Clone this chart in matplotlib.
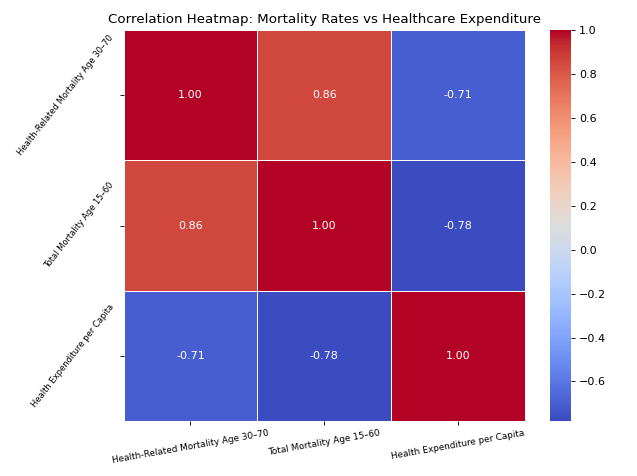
import matplotlib
matplotlib.use("Agg")
import matplotlib.pyplot as plt
import numpy as np
import seaborn as sns

labels = ['Health-Related Mortality Age 30–70', 'Total Mortality Age 15–60', 'Health Expenditure per Capita']
row_1 = [1.00, 0.86, -0.71]
row_2 = [0.86, 1.00, -0.78]
row_3 = [-0.71, -0.78, 1.00]

corr = np.array([row_1, row_2, row_3])

fig = plt.figure(figsize=(6.37, 4.76), dpi=100)
ax = fig.add_axes([0.1939, 0.1155, 0.6303, 0.8214])
cax = fig.add_axes([0.8634, 0.1155, 0.033, 0.8214])

sns.heatmap(corr, annot=True, fmt='.2f', cmap='coolwarm', linewidths=0.4, linecolor='white',
            xticklabels=labels, yticklabels=labels, ax=ax, cbar_ax=cax,
            annot_kws={'size': 8})

ax.set_title('Correlation Heatmap: Mortality Rates vs Healthcare Expenditure',
             fontsize=9.6, pad=5)
plt.setp(ax.get_xticklabels(), rotation=10, fontsize=6.4, ha='center')
plt.setp(ax.get_yticklabels(), rotation=52, fontsize=6.0, va='center', ha='right')
ax.tick_params(length=2.8, width=0.64, pad=2.8)
cax.tick_params(labelsize=8, length=2.8, width=0.64, pad=2.8)

fig.savefig('out.png', dpi=100)
